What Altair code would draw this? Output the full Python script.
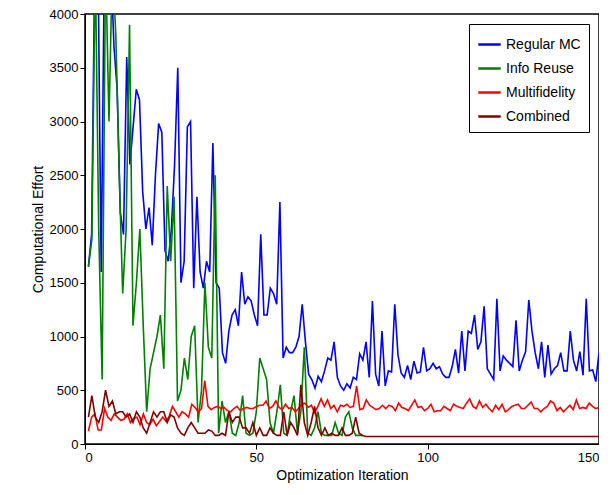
import altair as alt
import pandas as pd

regular_mc = [1650, 1950, 4500, 4500, 1600, 4500, 4500, 4500, 3700, 3300, 2150, 1950, 3600, 2600, 2950,
              3300, 3200, 2350, 2000, 2200, 1850, 2500, 2980, 2900, 1800, 1700, 2000, 2600, 3500, 1500,
              1700, 2950, 3000, 1450, 2300, 1600, 1450, 1700, 1600, 2800, 1500, 1450, 850, 750, 1050,
              1200, 1250, 1100, 1600, 1300, 1370, 1330, 1200, 1100, 1950, 1200, 1200, 1450, 1400, 1300,
              2250, 800, 900, 850, 850, 900, 1000, 1300, 950, 650, 600, 520, 630, 580, 680,
              800, 780, 950, 620, 540, 500, 560, 520, 620, 600, 840, 780, 950, 620, 1330, 650,
              540, 1050, 540, 680, 670, 1300, 830, 660, 620, 730, 600, 770, 660, 670, 900, 680,
              700, 750, 700, 720, 650, 620, 620, 720, 880, 660, 1050, 680, 1050, 1030, 1200, 880,
              950, 1280, 700, 650, 600, 1350, 680, 820, 780, 750, 720, 1150, 680, 780, 860, 1340,
              1050, 850, 700, 950, 620, 920, 650, 700, 730, 850, 680, 680, 1050, 780, 680, 860,
              640, 1350, 680, 690, 580, 850]
info_reuse = [1650, 1900, 4500, 2000, 600, 4500, 3000, 4500, 3800, 2500, 1400, 2000, 3900, 1100, 1500,
              2000, 1100, 300, 700, 850, 1000, 1200, 700, 2400, 1700, 2300, 400, 500, 800, 600,
              1000, 1100, 200, 500, 1500, 900, 800, 2500, 100, 400, 200, 300, 100, 80, 200,
              450, 100, 80, 100, 300, 800, 700, 600, 200, 100, 300, 550, 100, 80, 300,
              450, 100, 300, 900, 100, 80, 150, 300, 100, 80, 80, 80, 200, 100, 80,
              250, 300, 150, 80, 80, 80]
multifidelity = [120, 250, 280, 130, 130, 330, 250, 220, 280, 250, 220, 230, 280, 200, 240,
                 250, 180, 280, 200, 180, 230, 170, 210, 250, 210, 260, 350, 300, 250, 300,
                 280, 250, 370, 340, 300, 330, 590, 350, 320, 340, 350, 330, 340, 310, 300,
                 330, 350, 310, 330, 340, 330, 330, 350, 360, 360, 400, 330, 350, 400, 340,
                 320, 370, 330, 340, 300, 330, 370, 380, 340, 360, 290, 350, 420, 350, 410,
                 330, 360, 300, 360, 350, 370, 340, 350, 540, 320, 330, 410, 360, 340, 320,
                 330, 360, 330, 360, 350, 310, 380, 340, 330, 310, 360, 410, 340, 350, 310,
                 330, 370, 300, 310, 310, 350, 330, 310, 370, 350, 340, 330, 380, 420, 350,
                 330, 400, 340, 370, 330, 300, 360, 320, 370, 300, 320, 350, 360, 370, 330,
                 330, 360, 390, 330, 330, 300, 330, 350, 400, 380, 310, 340, 300, 330, 360,
                 320, 410, 330, 340, 330, 380, 350, 330, 340]
combined = [250, 450, 250, 200, 300, 500, 350, 400, 280, 300, 300, 250, 280, 200, 300,
            250, 150, 100, 200, 300, 250, 300, 300, 200, 270, 250, 150, 100, 80, 150,
            200, 150, 100, 100, 100, 130, 120, 80, 80, 100, 80, 300, 200, 250, 250,
            150, 150, 100, 200, 80, 150, 80, 80, 150, 100, 80, 80, 300, 80, 200, 150,
            80, 550, 200, 80, 200, 350, 150, 80, 150, 80, 100, 80, 80, 150, 80,
            80, 100, 250, 100, 80, 70]
combined = combined + [70] * (150 - len(combined))

series = ["Regular MC", "Info Reuse", "Multifidelity", "Combined"]
colours = ["#0000ff", "#008000", "#ff0000", "#800000"]

rows = []
for name, values in zip(series, [regular_mc, info_reuse, multifidelity, combined]):
    # the two long series span the whole run, the others are one value per iteration
    scaled = name in ("Regular MC", "Multifidelity")
    step = 149 / (len(values) - 1) if scaled else 1
    for i, v in enumerate(values):
        rows.append({"iter": 1 + i * step, "effort": v, "method": name,
                     "order": series.index(name)})
df = pd.DataFrame(rows)

chart = alt.Chart(df).mark_line(strokeWidth=1.6, clip=True).encode(
    x=alt.X("iter:Q", title="Optimization Iteration",
            scale=alt.Scale(domain=[0, 150], nice=False),
            axis=alt.Axis(values=[0, 50, 100, 150], grid=False, tickSize=5)),
    y=alt.Y("effort:Q", title="Computational Effort",
            scale=alt.Scale(domain=[0, 4000], nice=False),
            axis=alt.Axis(values=list(range(0, 4001, 500)), format="d", grid=False, tickSize=5)),
    color=alt.Color("method:N", sort=series,
                    scale=alt.Scale(domain=series, range=colours),
                    legend=alt.Legend(title=None, orient="top-right", symbolType="stroke",
                                      symbolStrokeWidth=2.5, symbolSize=500, labelFontSize=14,
                                      strokeColor="black", fillColor="white", padding=8,
                                      offset=10, rowPadding=4)),
    order="order:Q",
).properties(
    width=514, height=430, autosize=alt.AutoSizeParams(type="none"),
    padding={"left": 77, "top": 6, "right": 0, "bottom": 44}
).configure_view(
    stroke="black", strokeWidth=1.5
).configure_axis(
    domainColor="black", tickColor="black", labelColor="black", titleColor="black",
    labelFontSize=13, titleFontSize=14, titleFontWeight="normal", labelFont="Liberation Sans",
    titleFont="Liberation Sans"
).configure_legend(labelFont="Liberation Sans")

chart.save("out.html", embed_options={"renderer": "svg", "actions": False})
